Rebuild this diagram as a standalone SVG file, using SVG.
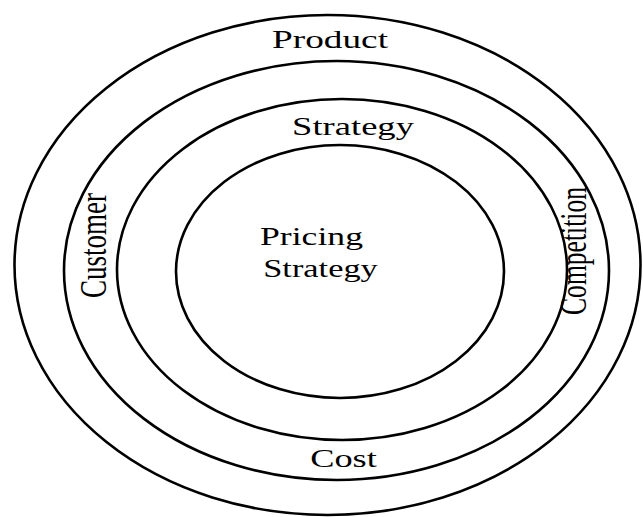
<svg xmlns="http://www.w3.org/2000/svg" width="643" height="517" viewBox="0 0 643 517">
  <style>
    .ring { fill: none; stroke: #000; stroke-width: 2.6; }
    .lbl { font-family: "Liberation Serif", "Times New Roman", serif; font-size: 26px; fill: #000; text-anchor: middle; }
  </style>
  <rect width="643" height="517" fill="#fff"/>

  <!-- outermost ring: Product / Customer / Competition / Cost -->
  <g id="ring-outer">
    <ellipse class="ring" cx="327.5" cy="265" rx="313" ry="250"/>
  </g>

  <g id="ring-second">
    <ellipse class="ring" cx="336.5" cy="270.5" rx="272.5" ry="209.5"/>
  </g>

  <g id="ring-strategy">
    <ellipse class="ring" cx="342" cy="269.5" rx="225" ry="170.5"/>
  </g>

  <g id="ring-pricing">
    <ellipse class="ring" cx="340" cy="271.5" rx="164" ry="126.5"/>
  </g>

  <!-- labels: glyphs widened 1.45x horizontally -->
  <g id="label-product">
    <text class="lbl" transform="translate(330,48) scale(1.45,1)" textLength="80" lengthAdjust="spacingAndGlyphs">Product</text>
  </g>
  <g id="label-strategy">
    <text class="lbl" transform="translate(353,135) scale(1.45,1)" textLength="84" lengthAdjust="spacingAndGlyphs">Strategy</text>
  </g>
  <g id="label-pricing-strategy">
    <text class="lbl" transform="translate(311.5,245) scale(1.45,1)" textLength="71" lengthAdjust="spacingAndGlyphs">Pricing</text>
    <text class="lbl" transform="translate(320.5,277) scale(1.45,1)" textLength="79" lengthAdjust="spacingAndGlyphs">Strategy</text>
  </g>
  <g id="label-cost">
    <text class="lbl" transform="translate(343.5,467) scale(1.45,1)" textLength="46" lengthAdjust="spacingAndGlyphs">Cost</text>
  </g>
  <g id="label-customer">
    <text class="lbl" transform="translate(106,245.5) scale(1.45,1) rotate(-90)" textLength="105" lengthAdjust="spacingAndGlyphs">Customer</text>
  </g>
  <g id="label-competition">
    <text class="lbl" transform="translate(586,251) scale(1.45,1) rotate(-90)" textLength="128" lengthAdjust="spacingAndGlyphs">Competition</text>
  </g>
</svg>
